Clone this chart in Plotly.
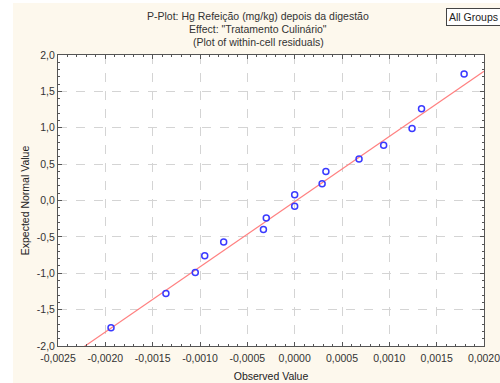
import plotly.graph_objects as go

# Data (observed residual vs expected normal value)
observed = [-0.00194, -0.00136, -0.00105, -0.00095, -0.00075, -0.00033, -0.00030,
            0.00000, 0.00000, 0.00029, 0.00033, 0.00068, 0.00094, 0.00124, 0.00134, 0.00179]
expected = [-1.75, -1.28, -0.99, -0.76, -0.57, -0.40, -0.24,
            -0.08, 0.08, 0.23, 0.40, 0.57, 0.76, 0.99, 1.26, 1.74]

# reference line
line_intercept = -0.016
line_slope = 896.0

x_range = [-0.0025, 0.0020]
y_range = [-2.0, 2.0]
x_tickvals = [-0.0025, -0.0020, -0.0015, -0.0010, -0.0005, 0.0, 0.0005, 0.0010, 0.0015, 0.0020]
x_ticktext = ["-0,0025", "-0,0020", "-0,0015", "-0,0010", "-0,0005", "0,0000",
              "0,0005", "0,0010", "0,0015", "0,0020"]
y_tickvals = [-2.0, -1.5, -1.0, -0.5, 0.0, 0.5, 1.0, 1.5, 2.0]
y_ticktext = ["-2,0", "-1,5", "-1,0", "-0,5", "0,0", "0,5", "1,0", "1,5", "2,0"]

title_lines = ["P-Plot: Hg Refeição (mg/kg) depois da digestão",
               "Effect: \"Tratamento Culinário\"",
               "(Plot of within-cell residuals)"]

FONT = "Liberation Sans, Arial, sans-serif"
W, H = 500, 383
L, R, T, B = 58, 16, 55, 37
pw, ph = W - L - R, H - T - B

fig = go.Figure()
fig.add_trace(go.Scatter(
    x=x_range, y=[line_intercept + line_slope * v for v in x_range],
    mode="lines", line=dict(color="#ff8080", width=1.2), hoverinfo="skip", showlegend=False))
fig.add_trace(go.Scatter(
    x=observed, y=expected, mode="markers",
    marker=dict(symbol="circle-open", size=6, color="#3a3aff", line=dict(width=1.5, color="#3a3aff")),
    showlegend=False, cliponaxis=False))

axis_common = dict(
    showline=True, linecolor="#555555", linewidth=1, mirror="ticks",
    ticks="inside", ticklen=4, tickcolor="#555555",
    showgrid=True, gridcolor="#d4d4d4", griddash="dash", gridwidth=1,
    zeroline=False, tickfont=dict(family=FONT, size=10.5, color="#333333"),
    automargin=False,
)

fig.update_xaxes(**axis_common, range=x_range, tickvals=x_tickvals, ticktext=x_ticktext,
                 ticklabeloverflow="allow", ticklabelstandoff=2,
                 minor=dict(ticks="inside", ticklen=2, tickcolor="#555555", dtick=0.0001,
                            tick0=-0.0025, showgrid=False),
                 title=dict(text="Observed Value", font=dict(family=FONT, size=10.5, color="#222222"),
                            standoff=10))
fig.update_yaxes(**axis_common, range=y_range, tickvals=y_tickvals, ticktext=y_ticktext,
                 minor=dict(ticks="inside", ticklen=2, tickcolor="#555555", dtick=0.1,
                            tick0=-2.0, showgrid=False),
                 title=dict(text="Expected Normal Value", font=dict(family=FONT, size=10.5, color="#222222"),
                            standoff=5))

annotations = []
for i, t in enumerate(title_lines):
    y_px = 16 + i * 13
    annotations.append(dict(
        text=t, xref="paper", yref="paper",
        x=(258 - L) / pw, y=(H - B - y_px) / ph, xanchor="center", yanchor="middle",
        showarrow=False, font=dict(family=FONT, size=10.5, color="#333333")))
annotations.append(dict(
    text="All Groups", xref="paper", yref="paper",
    x=(446 - L) / pw, y=(H - B - 8) / ph, xanchor="left", yanchor="top",
    showarrow=False, font=dict(family=FONT, size=10.5, color="#222222"),
    bordercolor="#444444", borderwidth=1, borderpad=2, bgcolor="#ffffff"))

shapes = [
    dict(type="rect", xref="paper", yref="paper", layer="below", line=dict(width=0),
         fillcolor="#ffffff", x0=-L / pw, x1=(13 - L) / pw, y0=-B / ph, y1=(H - B) / ph),
    dict(type="rect", xref="paper", yref="paper", layer="below", line=dict(width=0),
         fillcolor="#ffffff", x0=-L / pw, x1=(W - L) / pw, y0=(H - B - 3) / ph, y1=(H - B) / ph),
]

fig.update_layout(
    width=W, height=H, margin=dict(l=L, r=R, t=T, b=B),
    paper_bgcolor="#fdf8ed", plot_bgcolor="#ffffff",
    annotations=annotations, shapes=shapes,
    font=dict(family=FONT, size=10.5, color="#333333"),
)

fig.write_html("out.html")
